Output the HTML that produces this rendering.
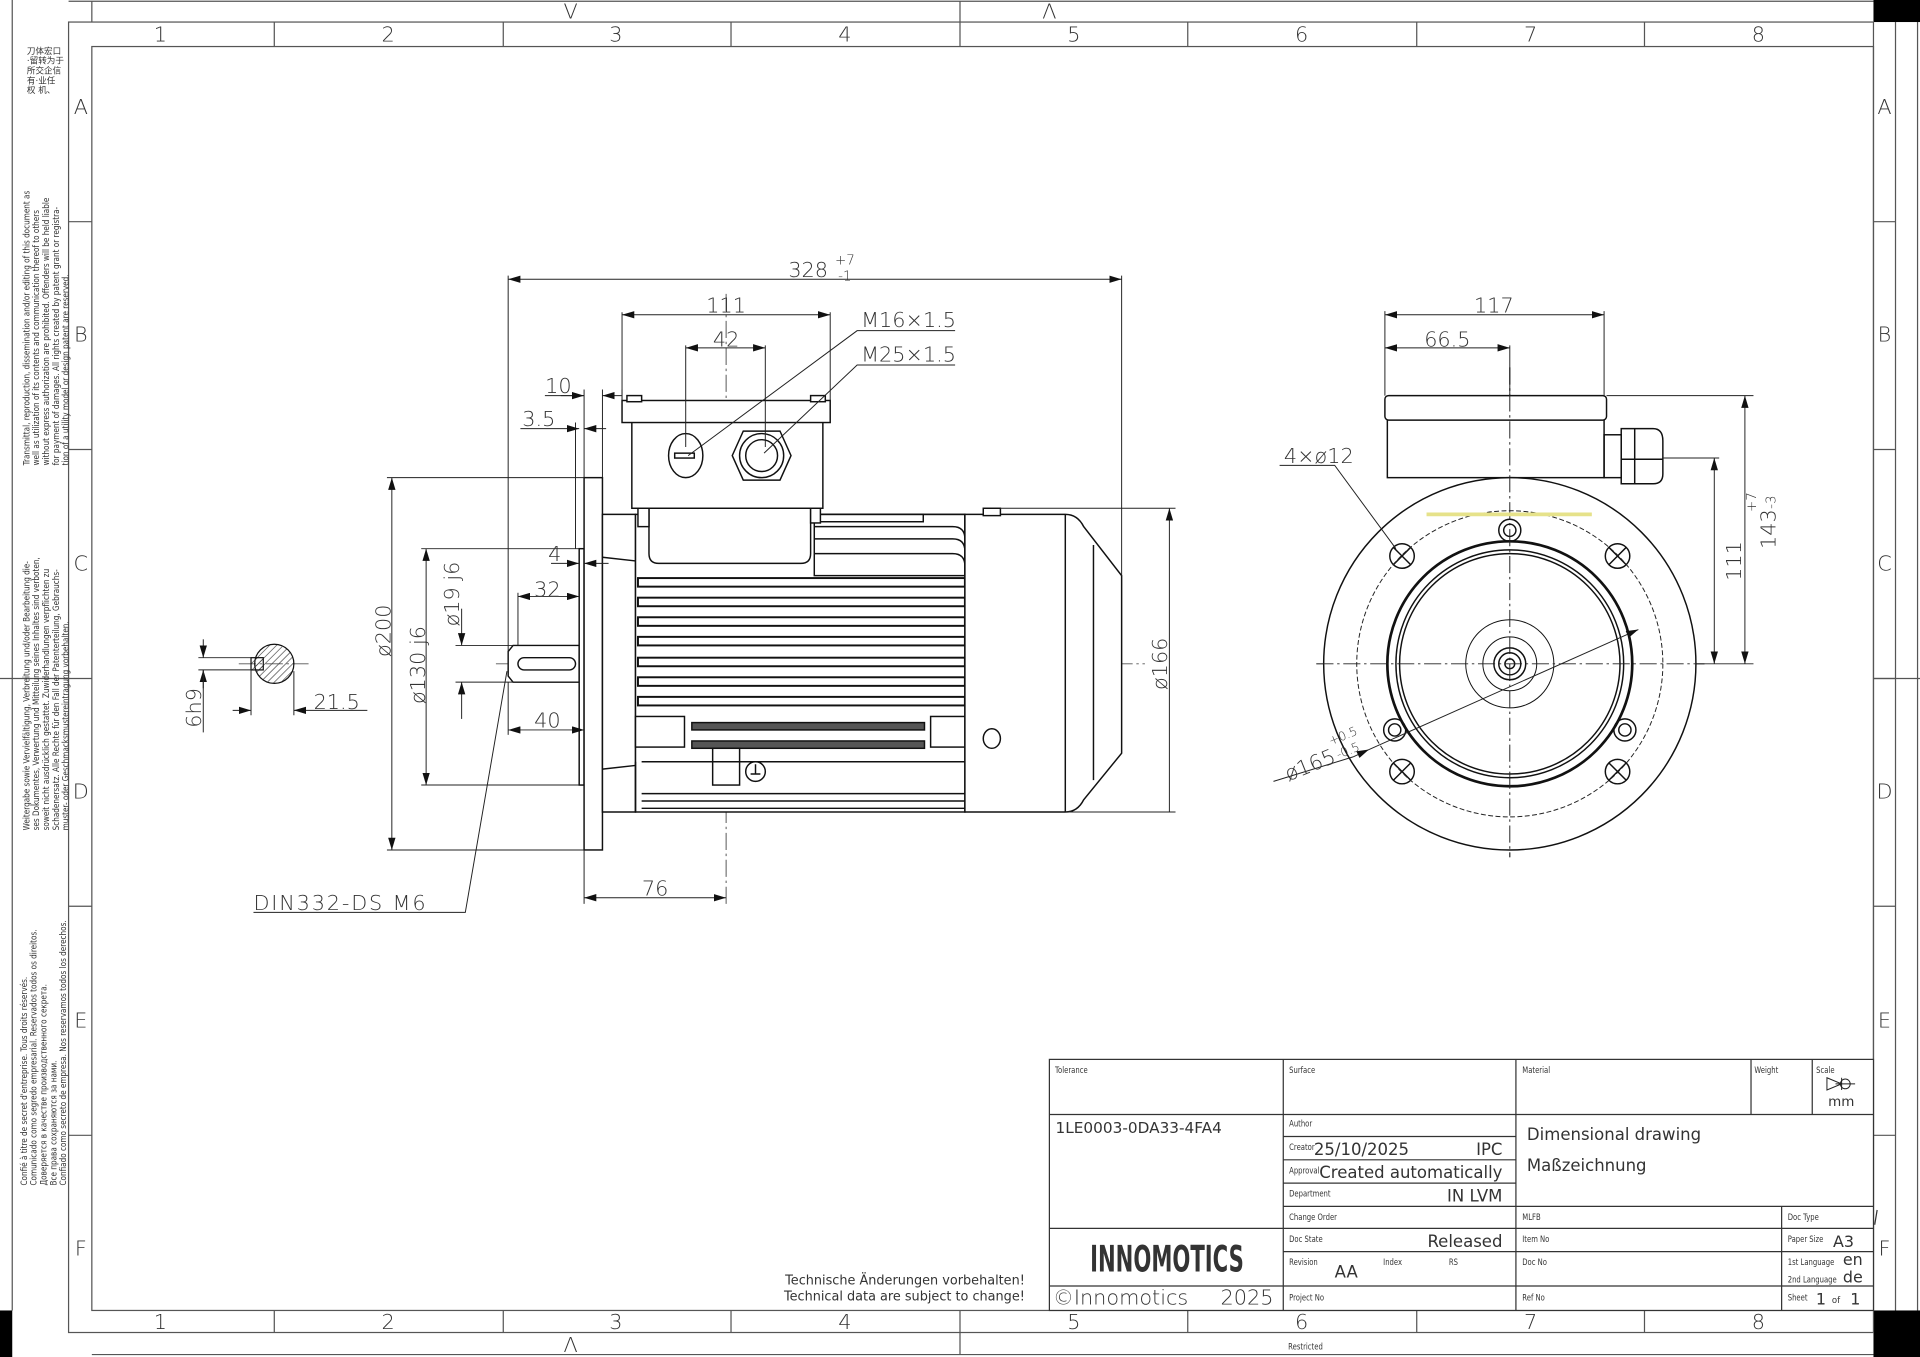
<!DOCTYPE html>
<html><head><meta charset="utf-8"><style>
html,body{margin:0;padding:0;background:#fff;width:1920px;height:1357px;overflow:hidden;}
svg{display:block;}
text{font-family:"DejaVu Sans","Liberation Sans",sans-serif;fill:#333;}
.d{font-size:17px;font-weight:200;}
.t{font-family:"Liberation Sans",sans-serif;fill:#111;}
.s{font-family:"Liberation Sans",sans-serif;font-size:7px;fill:#222;}
</style></head><body>
<svg width="1920" height="1357" viewBox="0 0 1568 1108" preserveAspectRatio="none" xmlns="http://www.w3.org/2000/svg">
<defs>
<marker id="a" viewBox="0 0 10 6" refX="10" refY="3" markerWidth="10" markerHeight="6" markerUnits="userSpaceOnUse" orient="auto-start-reverse"><path d="M0,0L10,3L0,6z" fill="#111"/></marker>
<pattern id="h" width="4" height="4" patternUnits="userSpaceOnUse" patternTransform="rotate(45)"><line x1="0" y1="0" x2="0" y2="4" stroke="#333" stroke-width="1"/></pattern>
</defs>
<rect width="1568" height="1108" fill="#fff"/>
<rect x="1530" y="0" width="38" height="18" fill="#000"/>
<rect x="0" y="1070" width="10" height="38" fill="#000"/>
<rect x="1530" y="1070" width="38" height="38" fill="#000"/>
<g fill="none" stroke="#555" stroke-width="1">
<line x1="56" y1="1" x2="1530" y2="1"/>
<rect x="56" y="18" width="1474" height="1070"/>
<rect x="75" y="38" width="1455" height="1032"/>
<line x1="1548" y1="18" x2="1548" y2="1070"/>
<line x1="1566" y1="18" x2="1566" y2="1070"/>
<line x1="1530" y1="554" x2="1568" y2="554"/>
<line x1="75" y1="1106" x2="1530" y2="1106"/>
<line x1="75" y1="1" x2="75" y2="18"/>
<line x1="0" y1="554" x2="56" y2="554"/>
<line x1="10" y1="0" x2="10" y2="1070"/>
<path d="M224 18V38M411 18V38M597 18V38M784 1V38M970 18V38M1157 18V38M1343 18V38
M224 1070V1088M411 1070V1088M597 1070V1088M784 1070V1106M970 1070V1088M1157 1070V1088M1343 1070V1088
M56 181H75M56 367H75M56 554H75M56 740H75M56 927H75
M1530 181H1548M1530 367H1548M1530 554H1548M1530 740H1548M1530 927H1548"/>
</g>
<g class="d" font-size="15" text-anchor="middle">
<text x="131" y="34">1</text><text x="317" y="34">2</text><text x="503" y="34">3</text><text x="690" y="34">4</text><text x="877" y="34">5</text><text x="1063" y="34">6</text><text x="1250" y="34">7</text><text x="1436" y="34">8</text>
<text x="131" y="1085">1</text><text x="317" y="1085">2</text><text x="503" y="1085">3</text><text x="690" y="1085">4</text><text x="877" y="1085">5</text><text x="1063" y="1085">6</text><text x="1250" y="1085">7</text><text x="1436" y="1085">8</text>
<text x="466" y="15">V</text><text x="857" y="15">Λ</text><text x="466" y="1104">Λ</text>
<text x="66" y="93">A</text><text x="66" y="279">B</text><text x="66" y="466">C</text><text x="66" y="652">D</text><text x="66" y="839">E</text><text x="66" y="1025">F</text>
<text x="1539" y="93">A</text><text x="1539" y="279">B</text><text x="1539" y="466">C</text><text x="1539" y="652">D</text><text x="1539" y="839">E</text><text x="1539" y="1025">F</text>
</g>
<g class="s">
<text transform="translate(24,380) rotate(-90) scale(0.85,1)"><tspan x="0" y="0">Transmittal, reproduction, dissemination and/or editing of this document as</tspan><tspan x="0" y="8">well as utilization of its contents and communication thereof to others</tspan><tspan x="0" y="16">without express authorization are prohibited. Offenders will be held liable</tspan><tspan x="0" y="24">for payment of damages. All rights created by patent grant or registra-</tspan><tspan x="0" y="32">tion of a utility model or design patent are reserved.</tspan></text>
<text transform="translate(24,678) rotate(-90) scale(0.85,1)"><tspan x="0" y="0">Weitergabe sowie Vervielfältigung, Verbreitung und/oder Bearbeitung die-</tspan><tspan x="0" y="8">ses Dokumentes, Verwertung und Mitteilung seines Inhaltes sind verboten,</tspan><tspan x="0" y="16">soweit nicht ausdrücklich gestattet. Zuwiderhandlungen verpflichten zu</tspan><tspan x="0" y="24">Schadenersatz. Alle Rechte für den Fall der Patenterteilung, Gebrauchs-</tspan><tspan x="0" y="32">muster- oder Geschmacksmustereintragung vorbehalten.</tspan></text>
<text transform="translate(22,968) rotate(-90) scale(0.85,1)"><tspan x="0" y="0">Confié à titre de secret d'entreprise. Tous droits réservés.</tspan><tspan x="0" y="8">Comunicado como segredo empresarial. Reservados todos os direitos.</tspan><tspan x="0" y="16">Доверяется в качестве производственного секрета.</tspan><tspan x="0" y="24">Все права сохраняются за нами.</tspan><tspan x="0" y="32">Confiado como secreto de empresa. Nos reservamos todos los derechos.</tspan></text>
<text x="22" y="44" font-family="Noto Sans CJK SC,sans-serif">刀体宏口</text><text x="22" y="52" font-family="Noto Sans CJK SC,sans-serif">·留转为于</text><text x="22" y="60" font-family="Noto Sans CJK SC,sans-serif">所交企信</text><text x="22" y="68" font-family="Noto Sans CJK SC,sans-serif">有·业任</text><text x="22" y="76" font-family="Noto Sans CJK SC,sans-serif">权 机、</text>
</g>

<g stroke="#555" stroke-width="0.8" stroke-dasharray="14 3 2 3" fill="none">
<line x1="405" y1="542" x2="935" y2="542"/>
<line x1="593" y1="240" x2="593" y2="740"/>
<line x1="1075" y1="542" x2="1392" y2="542"/>
<line x1="1233" y1="300" x2="1233" y2="700"/>
<line x1="195" y1="542" x2="252" y2="542"/>
<circle cx="1233" cy="542" r="125" stroke-dasharray="4 2"/>
</g>

<g fill="#fff" stroke="#111" stroke-width="1.2">
<path d="M419 527H473V557H419L415 552V532Z"/>
<rect x="423" y="537" width="47" height="10" rx="5"/>
<rect x="473" y="448" width="4" height="193"/>
<rect x="477" y="390" width="15" height="304"/>
<path d="M492 420H519V663H492Z"/>
<path d="M492 455L519 458M492 628L519 625"/>
<rect x="519" y="420" width="269" height="243"/>
<rect x="665" y="420" width="89" height="6"/>
<path d="M665 430H778Q788 430 788 440M665 440H778Q788 440 788 450M665 452H778Q788 452 788 462"/>
<rect x="665" y="420" width="123" height="50" fill="none"/>
<path d="M530 415H662V452Q662 460 654 460H538Q530 460 530 452Z"/>
<rect x="521" y="415" width="9" height="15"/>
<rect x="662" y="415" width="8" height="12"/>
<rect x="516" y="340" width="156" height="75"/>
<rect x="508" y="327" width="170" height="18"/>
<rect x="512" y="323" width="12" height="5"/>
<rect x="662" y="323" width="12" height="5"/>
<ellipse cx="560" cy="372" rx="14" ry="18"/>
<rect x="551" y="370" width="16" height="4"/>
<path d="M607 352L637 352L646 372L637 392L607 392L598 372Z"/>
<circle cx="622" cy="372" r="18"/>
<circle cx="622" cy="372" r="13"/>
<g stroke-width="1.6">
<rect x="521" y="472" width="267" height="7"/>
<rect x="521" y="488" width="267" height="7"/>
<rect x="521" y="504" width="267" height="7"/>
<rect x="521" y="520" width="267" height="7"/>
<rect x="521" y="537" width="267" height="7"/>
<rect x="521" y="553" width="267" height="7"/>
<rect x="521" y="569" width="267" height="7"/>
</g>
<rect x="519" y="585" width="40" height="25"/>
<rect x="760" y="585" width="28" height="25"/>
<rect x="565" y="590" width="190" height="6" fill="#555"/>
<rect x="565" y="605" width="190" height="6" fill="#555"/>
<rect x="582" y="611" width="22" height="30"/>
<circle cx="617" cy="630" r="8"/>
<path d="M613 632H621M617 624V632"/>
<path d="M524 622H788M524 648H788M524 654H788M524 660H788"/>
<path d="M519 622V663"/>
<path d="M788 420H870Q880 420 885 430L916 470V615L885 653Q880 663 870 663H788Z"/>
<line x1="870" y1="420" x2="870" y2="663"/>
<line x1="893" y1="445" x2="893" y2="637"/>
<rect x="803" y="415" width="14" height="6"/>
<ellipse cx="810" cy="603" rx="7" ry="8"/>
</g>

<g stroke="#222" stroke-width="0.8" fill="none">
<path d="M415 225V545M916 225V470M508 255V327M678 255V327M560 282V365M625 282V365"/>
<line x1="415" y1="228" x2="916" y2="228" marker-start="url(#a)" marker-end="url(#a)"/>
<line x1="508" y1="257" x2="678" y2="257" marker-start="url(#a)" marker-end="url(#a)"/>
<line x1="560" y1="284" x2="625" y2="284" marker-start="url(#a)" marker-end="url(#a)"/>
<path d="M477 318V390M492 318V390M508 318V327M470 345V448"/>
<line x1="445" y1="323" x2="477" y2="323"/><line x1="458" y1="323" x2="477" y2="323" marker-end="url(#a)"/>
<line x1="508" y1="323" x2="492" y2="323" marker-end="url(#a)"/>
<line x1="425" y1="350" x2="473" y2="350" marker-end="url(#a)"/>
<line x1="495" y1="350" x2="477" y2="350" marker-end="url(#a)"/>
<line x1="450" y1="460" x2="473" y2="460" marker-end="url(#a)"/>
<line x1="497" y1="460" x2="477" y2="460" marker-end="url(#a)"/>
<path d="M423 484V527"/>
<line x1="423" y1="487" x2="473" y2="487" marker-start="url(#a)" marker-end="url(#a)"/>
<path d="M415 557V600"/>
<line x1="415" y1="596" x2="477" y2="596" marker-start="url(#a)" marker-end="url(#a)"/>
<path d="M316 390H477M316 694H477M344 448H473M344 641H473M372 527H419M372 557H419"/>
<line x1="320" y1="390" x2="320" y2="694" marker-start="url(#a)" marker-end="url(#a)"/>
<line x1="348" y1="448" x2="348" y2="641" marker-start="url(#a)" marker-end="url(#a)"/>
<line x1="377" y1="497" x2="377" y2="527" marker-end="url(#a)"/>
<line x1="377" y1="587" x2="377" y2="557" marker-end="url(#a)"/>
<path d="M817 415H960M870 663H960"/>
<line x1="955" y1="415" x2="955" y2="663" marker-start="url(#a)"/>
<path d="M477 694V738"/>
<line x1="477" y1="733" x2="593" y2="733" marker-start="url(#a)" marker-end="url(#a)"/>
<path d="M780 270H700L562 372M780 298H700L624 370"/>
<path d="M207 745H380L414 548"/>
</g>
<g class="d" text-anchor="middle">
<text x="660" y="226">328</text><text x="690" y="216" font-size="11">+7</text><text x="690" y="229" font-size="11">-1</text>
<text x="593" y="255">111</text>
<text x="593" y="283">42</text>
<text x="742" y="267">M16×1.5</text>
<text x="742" y="295">M25×1.5</text>
<text x="456" y="321">10</text>
<text x="440" y="348">3.5</text>
<text x="453" y="458">4</text>
<text x="447" y="487">32</text>
<text x="447" y="594">40</text>
<text x="535" y="731">76</text>
<text transform="translate(319,515) rotate(-90)">ø200</text>
<text transform="translate(347,543) rotate(-90)">ø130 j6</text>
<text transform="translate(375,485) rotate(-90)">ø19 j6</text>
<text transform="translate(953,542) rotate(-90)">ø166</text>
</g>
<text class="d" x="207" y="743" style="letter-spacing:1.5px">DIN332-DS  M6</text>

<g stroke="#111" stroke-width="1">
<circle cx="224" cy="542" r="16" fill="url(#h)"/>
<rect x="205" y="537" width="10" height="10" fill="url(#h)"/>
</g>
<g stroke="#222" stroke-width="0.8" fill="none">
<path d="M162 537H205M162 547H205M205 547V584M240 548V584"/>
<line x1="166" y1="522" x2="166" y2="537" marker-end="url(#a)"/>
<line x1="166" y1="562" x2="166" y2="547" marker-end="url(#a)"/>
<path d="M166 547V598"/>
<line x1="190" y1="580" x2="205" y2="580" marker-end="url(#a)"/>
<line x1="300" y1="580" x2="240" y2="580" marker-end="url(#a)"/>
</g>
<g class="d" text-anchor="middle">
<text x="275" y="579">21.5</text>
<text transform="translate(164,578) rotate(-90)">6h9</text>
</g>

<g fill="none" stroke="#111" stroke-width="1.2">
<rect x="1133" y="330" width="177" height="60" fill="#fff"/>
<rect x="1131" y="323" width="181" height="20" rx="3" fill="#fff"/>
<rect x="1310" y="355" width="14" height="35"/>
<path d="M1324 350H1350Q1358 350 1358 360V387Q1358 395 1350 395H1324Z"/>
<path d="M1324 375H1358M1335 350V395"/>
<circle cx="1233" cy="542" r="152" fill="#fff"/>
<circle cx="1233" cy="542" r="100" stroke-width="2.2"/>
<circle cx="1233" cy="542" r="93"/>
<circle cx="1233" cy="542" r="90"/>
<circle cx="1233" cy="542" r="36" stroke-width="0.8"/>
<circle cx="1233" cy="542" r="22" stroke-width="0.8"/>
<circle cx="1233" cy="542" r="13"/>
<circle cx="1233" cy="542" r="9"/>
<circle cx="1233" cy="542" r="4"/>
<circle cx="1145" cy="454" r="10"/><path d="M1138 447L1152 461M1152 447L1138 461"/>
<circle cx="1321" cy="454" r="10"/><path d="M1314 447L1328 461M1328 447L1314 461"/>
<circle cx="1145" cy="630" r="10"/><path d="M1138 623L1152 637M1152 623L1138 637"/>
<circle cx="1321" cy="630" r="10"/><path d="M1314 623L1328 637M1328 623L1314 637"/>
<circle cx="1233" cy="433" r="9"/><circle cx="1233" cy="433" r="5"/>
<circle cx="1139" cy="596" r="9"/><circle cx="1139" cy="596" r="5"/>
<circle cx="1327" cy="596" r="9"/><circle cx="1327" cy="596" r="5"/>
</g>
<g stroke="#222" stroke-width="0.8" stroke-dasharray="14 3 2 3" fill="none">
<line x1="1075" y1="542" x2="1392" y2="542"/>
<line x1="1233" y1="300" x2="1233" y2="700"/>
<circle cx="1233" cy="542" r="125" stroke-dasharray="4 2"/>
</g>
<line x1="1165" y1="420" x2="1300" y2="420" stroke="#e6e28a" stroke-width="3"/>
<g stroke="#222" stroke-width="0.8" fill="none">
<path d="M1131 254V323M1310 254V323M1233 282V323"/>
<line x1="1131" y1="257" x2="1310" y2="257" marker-start="url(#a)" marker-end="url(#a)"/>
<line x1="1131" y1="284" x2="1233" y2="284" marker-start="url(#a)" marker-end="url(#a)"/>
<path d="M1312 323H1432M1358 374H1404M1385 542H1432"/>
<line x1="1400" y1="374" x2="1400" y2="542" marker-start="url(#a)" marker-end="url(#a)"/>
<line x1="1425" y1="323" x2="1425" y2="542" marker-start="url(#a)" marker-end="url(#a)"/>
<path d="M1045 380H1090L1140 448"/>
<path d="M1040 638L1105 618"/>
<line x1="1105" y1="618" x2="1118" y2="612" marker-end="url(#a)"/>
<line x1="1118" y1="612" x2="1338" y2="514" marker-end="url(#a)"/>
</g>
<g class="d" text-anchor="middle">
<text x="1220" y="255">117</text>
<text x="1182" y="283">66.5</text>
<text x="1077" y="378">4×ø12</text>
<text transform="translate(1422,458) rotate(-90)">111</text>
<text transform="translate(1450,432) rotate(-90)">143</text>
<text transform="translate(1434,410) rotate(-90)" font-size="11">+7</text>
<text transform="translate(1450,410) rotate(-90)" font-size="11">-3</text>
<text transform="translate(1072,630) rotate(-22)">ø165</text>
<text transform="translate(1098,604) rotate(-22)" font-size="10">+0.5</text>
<text transform="translate(1102,616) rotate(-22)" font-size="10">-0.5</text>
</g>

<rect x="857" y="865" width="673" height="205" fill="#fff"/>
<g stroke="#333" stroke-width="1" fill="none">
<rect x="857" y="865" width="673" height="205"/>
<path d="M857 910H1530M1048 865V1070M1238 865V1070M1430 865V910M1480 865V910
M1048 928H1238M1048 947H1238M1048 966H1238M1048 985H1530M857 1003H1530M1048 1022H1238M1238 1022H1530M857 1050H1530
M1455 985V1070M1533 988L1531 1000"/>
</g>
<g class="t">
<g font-size="7">
<g transform="scale(0.8,1)">
<text x="1077" y="876">Tolerance</text><text x="1316" y="876">Surface</text><text x="1554" y="876">Material</text><text x="1791" y="876">Weight</text><text x="1854" y="876">Scale</text>
<text x="1316" y="920">Author</text><text x="1316" y="939">Creator</text><text x="1316" y="958">Approval</text><text x="1316" y="977">Department</text><text x="1316" y="996">Change Order</text>
<text x="1316" y="1014">Doc State</text><text x="1316" y="1033">Revision</text><text x="1412" y="1033">Index</text><text x="1479" y="1033">RS</text>
<text x="1316" y="1062">Project No</text>
<text x="1554" y="996">MLFB</text><text x="1554" y="1014">Item No</text><text x="1554" y="1033">Doc No</text><text x="1554" y="1062">Ref No</text>
<text x="1825" y="996">Doc Type</text><text x="1825" y="1014">Paper Size</text><text x="1825" y="1033">1st Language</text><text x="1825" y="1047">2nd Language</text><text x="1825" y="1062">Sheet</text>
<text x="1315" y="1102">Restricted</text>
</g>
</g>
<text x="862" y="925" font-size="12.5">1LE0003-0DA33-4FA4</text>
<text x="1073" y="943" font-size="13.5">25/10/2025</text>
<text x="1227" y="943" font-size="13.5" text-anchor="end">IPC</text>
<text x="1227" y="962" font-size="13.5" text-anchor="end">Created automatically</text>
<text x="1227" y="981" font-size="13.5" text-anchor="end">IN LVM</text>
<text x="1247" y="931" font-size="13.5">Dimensional drawing</text>
<text x="1247" y="956" font-size="13.5">Maßzeichnung</text>
<text x="1227" y="1018" font-size="13.5" text-anchor="end">Released</text>
<text x="1090" y="1043" font-size="13.5">AA</text>
<text x="1497" y="1018" font-size="13">A3</text>
<text x="1505" y="1033" font-size="13">en</text>
<text x="1505" y="1047" font-size="13">de</text>
<text x="1483" y="1065" font-size="13">1</text><text x="1496" y="1064" font-size="7">of</text><text x="1511" y="1065" font-size="13">1</text>
<text x="1493" y="903" font-size="11">mm</text>
<text transform="translate(953,1038) scale(0.72,1.25)" x="0" y="0" font-size="24" font-weight="bold" text-anchor="middle" fill="#000">INNOMOTICS</text>
<text x="837" y="1049" font-size="10.5" text-anchor="end">Technische Änderungen vorbehalten!</text>
<text x="837" y="1062" font-size="10.5" text-anchor="end">Technical data are subject to change!</text>
</g>
<text x="860" y="1065" class="d" font-size="13">©Innomotics</text>
<text x="1040" y="1065" class="d" font-size="13" text-anchor="end">2025</text>
<g stroke="#222" stroke-width="0.8" fill="none">
<path d="M1492 880L1504 885L1492 890ZM1504 880V890M1499 885H1515"/>
<circle cx="1507" cy="885" r="4"/>
</g>
</svg>
</body></html>
